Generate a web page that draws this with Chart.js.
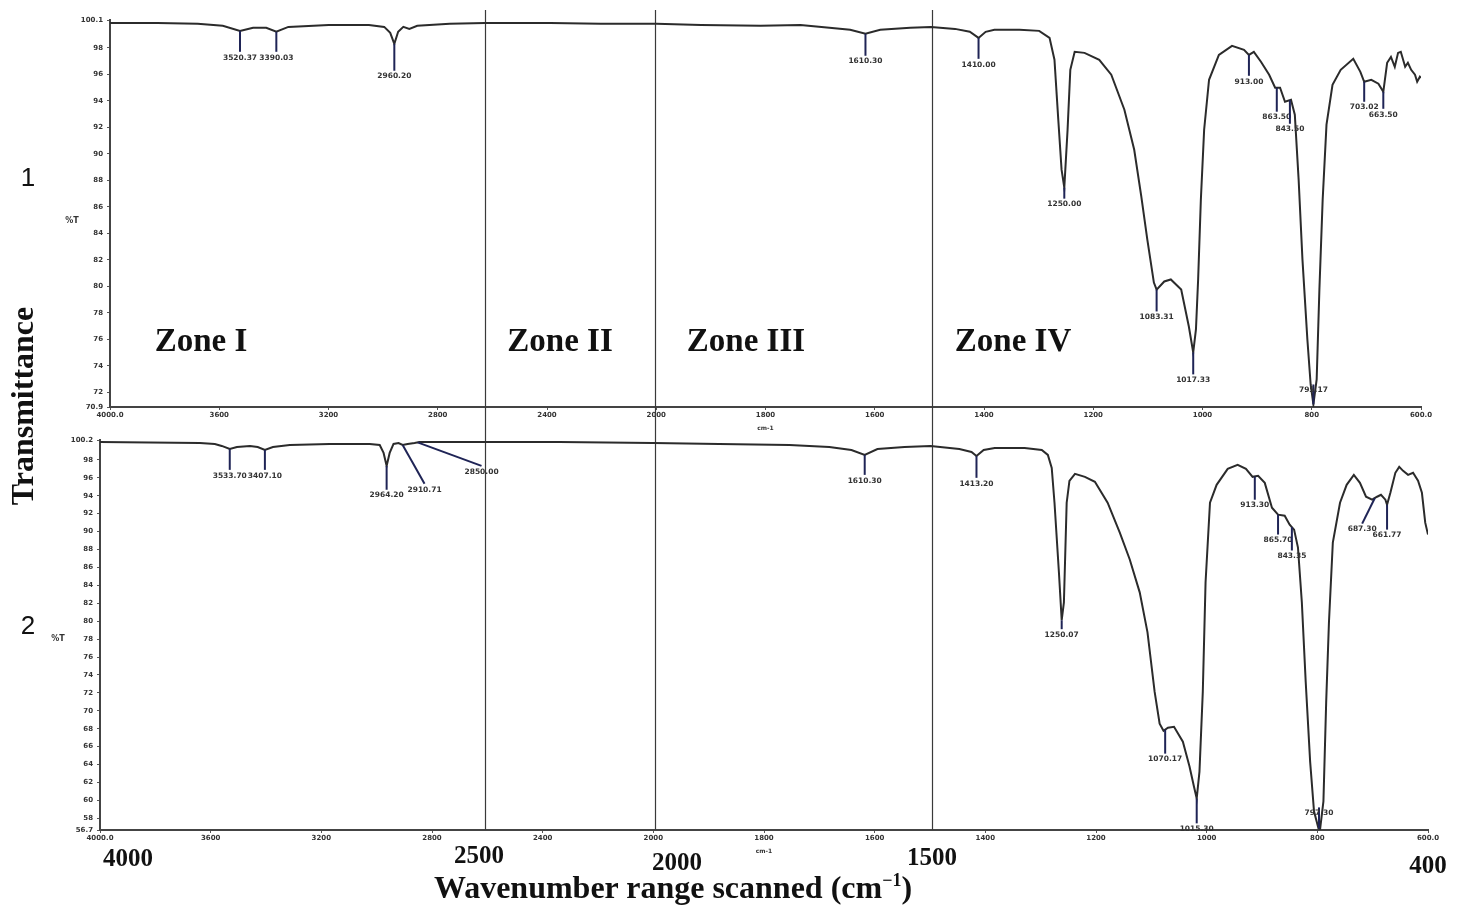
<!DOCTYPE html>
<html>
<head>
<meta charset="utf-8">
<script src="https://cdn.jsdelivr.net/npm/chart.js@4.4.1/dist/chart.umd.min.js"></script>
<style>
  body { margin: 0; background: #fff; width: 1458px; height: 905px; position: relative; overflow: hidden; }
  canvas { position: absolute; left: 0; }
  #top { top: 0; }
  #bot { top: 432px; }
  .lbl { position: absolute; transform: translate(-50%, -50%); white-space: nowrap; color: #111; }
  .serif { font-family: "Liberation Serif", "DejaVu Serif", serif; font-weight: bold; }
  .pct { font: bold 8px "DejaVu Sans", sans-serif; color: #333; }
</style>
</head>
<body>
<canvas id="top" width="1458" height="432"></canvas>
<canvas id="bot" width="1458" height="473"></canvas>

<div class="lbl" style="left:28px;top:177px;font:26px 'Liberation Sans',sans-serif">1</div>
<div class="lbl" style="left:28px;top:625px;font:26px 'Liberation Sans',sans-serif">2</div>
<div class="lbl serif" style="left:22px;top:406px;font-size:32px;transform:translate(-50%,-50%) rotate(-90deg)">Transmittance</div>
<div class="lbl pct" style="left:72px;top:220px">%T</div>
<div class="lbl pct" style="left:58px;top:638px">%T</div>
<div class="lbl serif" style="left:201px;top:340px;font-size:33px">Zone I</div>
<div class="lbl serif" style="left:560px;top:340px;font-size:33px">Zone II</div>
<div class="lbl serif" style="left:746px;top:340px;font-size:33px">Zone III</div>
<div class="lbl serif" style="left:1013px;top:340px;font-size:33px">Zone IV</div>
<div class="lbl serif" style="left:128px;top:858px;font-size:25px">4000</div>
<div class="lbl serif" style="left:479px;top:855px;font-size:25px">2500</div>
<div class="lbl serif" style="left:677px;top:862px;font-size:25px">2000</div>
<div class="lbl serif" style="left:932px;top:857px;font-size:25px">1500</div>
<div class="lbl serif" style="left:1428px;top:865px;font-size:25px">400</div>
<div class="lbl serif" style="left:673px;top:887px;font-size:32px">Wavenumber range scanned (cm<sup style="font-size:18px">−1</sup>)</div>

<script>
// spectrum 1 (top)
const topWavenumber = [4000, 3827, 3679, 3587, 3524, 3476, 3428, 3391, 3347, 3199, 3052, 2996, 2974, 2959, 2945, 2926, 2904, 2875, 2756, 2627, 2388, 2203, 2000, 1918, 1809, 1736, 1683, 1645, 1617, 1590, 1535, 1497, 1453, 1426, 1410, 1397, 1381, 1335, 1299, 1280, 1271, 1264, 1258, 1253, 1247, 1242, 1234, 1216, 1189, 1167, 1143, 1125, 1112, 1101, 1089, 1084, 1070, 1058, 1039, 1025, 1017, 1012, 1008, 1003, 997, 988, 970, 946, 924, 915, 906, 893, 878, 867, 858, 849, 838, 831, 824, 817, 808, 802, 797, 791, 786, 780, 773, 762, 747, 724, 711, 704, 691, 678, 669, 662, 655, 648, 642, 637, 629, 624, 618, 611, 607, 602, 600];
const topTransmittance = [99.88, 99.88, 99.81, 99.66, 99.28, 99.51, 99.51, 99.21, 99.58, 99.73, 99.73, 99.58, 99.13, 98.30, 99.21, 99.58, 99.43, 99.66, 99.81, 99.88, 99.88, 99.81, 99.81, 99.73, 99.66, 99.73, 99.51, 99.36, 99.06, 99.36, 99.51, 99.58, 99.43, 99.21, 98.75, 99.21, 99.36, 99.36, 99.28, 98.75, 97.10, 92.57, 88.81, 87.45, 91.82, 96.34, 97.70, 97.62, 97.10, 95.97, 93.33, 90.31, 86.77, 83.53, 80.29, 79.76, 80.37, 80.52, 79.76, 76.97, 75.02, 76.75, 80.52, 86.55, 91.82, 95.59, 97.47, 98.15, 97.85, 97.47, 97.70, 96.95, 95.97, 94.99, 94.99, 93.93, 94.08, 92.95, 88.05, 82.02, 75.99, 72.60, 71.10, 72.98, 79.76, 86.55, 92.20, 95.21, 96.34, 97.17, 96.19, 95.44, 95.59, 95.29, 94.68, 96.87, 97.32, 96.57, 97.62, 97.70, 96.57, 96.87, 96.34, 95.97, 95.44, 95.82, 95.74];

// spectrum 2 (bottom)
const botWavenumber = [4000, 3639, 3585, 3560, 3531, 3505, 3458, 3430, 3404, 3375, 3314, 3170, 3025, 2989, 2975, 2964, 2953, 2939, 2921, 2906, 2888, 2863, 2845, 2773, 2610, 2339, 2000, 1881, 1754, 1682, 1642, 1618, 1595, 1546, 1499, 1447, 1425, 1416, 1403, 1383, 1329, 1298, 1287, 1280, 1275, 1267, 1262, 1258, 1253, 1248, 1238, 1220, 1202, 1179, 1157, 1139, 1121, 1107, 1094, 1085, 1078, 1070, 1059, 1043, 1031, 1023, 1018, 1013, 1007, 1002, 994, 982, 962, 944, 929, 917, 907, 895, 882, 871, 859, 850, 842, 835, 828, 821, 813, 806, 798, 795, 789, 784, 779, 772, 759, 747, 734, 723, 712, 701, 692, 685, 677, 674, 668, 659, 652, 645, 636, 627, 618, 611, 605, 600];
const botTransmittance = [100.0, 99.89, 99.78, 99.56, 99.22, 99.44, 99.56, 99.44, 99.11, 99.44, 99.67, 99.78, 99.78, 99.67, 98.78, 97.33, 98.78, 99.78, 99.89, 99.67, 99.78, 99.89, 100.0, 100.0, 100.0, 100.0, 99.89, 99.78, 99.67, 99.44, 99.11, 98.56, 99.22, 99.44, 99.56, 99.22, 98.89, 98.44, 99.11, 99.33, 99.33, 99.11, 98.56, 97.11, 93.22, 85.44, 80.11, 82.11, 93.22, 95.67, 96.44, 96.11, 95.56, 93.22, 89.89, 86.89, 83.22, 78.78, 72.11, 68.56, 67.78, 68.11, 68.22, 66.56, 63.78, 61.56, 60.22, 63.22, 72.11, 84.33, 93.22, 95.22, 97.0, 97.44, 97.0, 96.11, 96.22, 95.44, 92.67, 91.89, 91.78, 90.78, 90.22, 88.22, 82.11, 73.22, 64.33, 58.78, 56.9, 56.8, 59.89, 71.0, 79.89, 88.78, 93.22, 95.22, 96.33, 95.44, 93.89, 93.56, 93.89, 94.11, 93.56, 93.0, 94.33, 96.56, 97.22, 96.78, 96.33, 96.56, 95.67, 94.33, 91.0, 89.67];

// axis ticks
const xTickValues = [4000, 3600, 3200, 2800, 2400, 2000, 1800, 1600, 1400, 1200, 1000, 800, 600];
const topYTicks = [70.9, 72, 74, 76, 78, 80, 82, 84, 86, 88, 90, 92, 94, 96, 98, 100.1];
const botYTicks = [56.7, 58, 60, 62, 64, 66, 68, 70, 72, 74, 76, 78, 80, 82, 84, 86, 88, 90, 92, 94, 96, 98, 100.2];

// peak picks: wavenumber on the curve, %T where the label hangs, label text
const topPeakWn = [3524, 3391, 2959, 1617, 1410, 1253, 1084, 1017, 797, 915, 864, 840, 704, 669];
const topPeakTip = [97.70, 97.70, 96.27, 97.40, 97.17, 86.62, 78.11, 73.36, 72.6, 95.89, 93.18, 92.27, 93.93, 93.40];
const topPeakText = ["3520.37", "3390.03", "2960.20", "1610.30", "1410.00", "1250.00", "1083.31", "1017.33", "795.17", "913.00", "863.50", "843.50", "703.02", "663.50"];

const botPeakWn = [3531, 3404, 2964, 2906, 2852, 1618, 1416, 1262, 1075, 1018, 797, 913, 871, 846, 696, 674];
const botPeakLabelWn = [3531, 3404, 2964, 2827, 2621, 1618, 1416, 1262, 1075, 1018, 797, 913, 871, 846, 719, 674];
const botPeakTip = [96.89, 96.89, 94.67, 95.33, 97.33, 96.33, 96.0, 79.11, 65.22, 57.44, 59.22, 93.56, 89.67, 87.89, 90.89, 90.22];
const botPeakText = ["3533.70", "3407.10", "2964.20", "2910.71", "2850.00", "1610.30", "1413.20", "1250.07", "1070.17", "1015.30", "797.30", "913.30", "865.70", "843.35", "687.30", "661.77"];

// zone boundaries as they fall in each panel
const topZones = [2627, 2005, 1495];
const botZones = [2608, 1997, 1496];

// the instrument halves the scale above 2000 cm-1
function axisPos(wn) {
  return wn > 2000 ? 2000 + (wn - 2000) / 2 : wn;
}
function axisWn(u) {
  return Math.round(u > 2000 ? 2000 + (u - 2000) * 2 : u);
}

function interp(wn, ws, ts) {
  for (let i = 0; i < ws.length - 1; i++) {
    if (wn <= ws[i] && wn >= ws[i + 1]) {
      const f = (ws[i] - wn) / (ws[i] - ws[i + 1]);
      return ts[i] + f * (ts[i + 1] - ts[i]);
    }
  }
  return ts[ts.length - 1];
}

const FONT = "'DejaVu Sans', sans-serif";

function makePanel(id, ws, ts, yTicks, peaks, zones, box) {
  const yMin = yTicks[0], yMax = yTicks[yTicks.length - 1];

  const overlay = {
    id: "overlay",
    beforeDatasetsDraw(chart) {
      const ctx = chart.ctx, x = chart.scales.x;
      ctx.save();
      ctx.strokeStyle = "#3a3a3a";
      ctx.lineWidth = 1.2;
      zones.forEach(z => {
        const px = Math.round(x.getPixelForValue(axisPos(z))) + 0.5;
        ctx.beginPath();
        ctx.moveTo(px, box.zoneTop);
        ctx.lineTo(px, box.zoneBottom === null ? chart.chartArea.bottom : box.zoneBottom);
        ctx.stroke();
      });
      ctx.restore();
    },
    afterDatasetsDraw(chart) {
      const ctx = chart.ctx, x = chart.scales.x, y = chart.scales.y;
      ctx.save();
      peaks.wn.forEach((wn, i) => {
        const lw = peaks.labelWn ? peaks.labelWn[i] : wn;
        const x0 = x.getPixelForValue(axisPos(wn));
        const y0 = y.getPixelForValue(interp(wn, ws, ts));
        const x1 = x.getPixelForValue(axisPos(lw));
        const y1 = y.getPixelForValue(peaks.tip[i]);
        ctx.strokeStyle = "#1f2456";
        ctx.lineWidth = 2;
        ctx.beginPath();
        ctx.moveTo(x0, y0);
        ctx.lineTo(x1, y1);
        ctx.stroke();
        ctx.fillStyle = "#333";
        ctx.font = "bold 7.5px " + FONT;
        ctx.textAlign = "center";
        ctx.textBaseline = "top";
        ctx.fillText(peaks.text[i], x1, y1 + 2);
      });
      ctx.restore();
    }
  };

  return new Chart(document.getElementById(id), {
    type: "line",
    data: {
      datasets: [{
        data: ws.map((w, i) => ({ x: axisPos(w), y: ts[i] })),
        borderColor: "#2b2b2b",
        borderWidth: 2,
        pointRadius: 0,
        tension: 0,
        fill: false
      }]
    },
    options: {
      responsive: false,
      animation: false,
      devicePixelRatio: 1,
      layout: { padding: { left: 0, right: box.right, top: box.top, bottom: box.bottom } },
      plugins: { legend: { display: false }, tooltip: { enabled: false } },
      scales: {
        x: {
          type: "linear",
          reverse: true,
          min: axisPos(600),
          max: axisPos(4000),
          afterBuildTicks: s => { s.ticks = xTickValues.map(v => ({ value: axisPos(v) })); },
          afterFit: s => { s.height = 25; },
          ticks: {
            autoSkip: false,
            maxRotation: 0,
            padding: 1,
            color: "#333",
            font: { family: FONT, size: 7, weight: "bold" },
            callback: v => {
              const wn = axisWn(v);
              return (wn === 4000 || wn === 600) ? wn.toFixed(1) : String(wn);
            }
          },
          title: { display: true, text: "cm-1", color: "#333", padding: 0, font: { family: FONT, size: 6, weight: "bold" } },
          grid: { display: true, drawOnChartArea: false, tickLength: 3, color: "#555" },
          border: { display: true, color: "#444", width: 2 }
        },
        y: {
          min: yMin,
          max: yMax,
          afterBuildTicks: s => { s.ticks = yTicks.map(v => ({ value: v })); },
          afterFit: s => { s.width = box.left; },
          ticks: {
            autoSkip: false,
            padding: 4,
            color: "#333",
            font: { family: FONT, size: 7, weight: "bold" },
            callback: v => (v === yMin || v === yMax) ? v.toFixed(1) : String(v)
          },
          grid: { display: true, drawOnChartArea: false, tickLength: 3, color: "#555" },
          border: { display: true, color: "#444", width: 2 }
        }
      }
    },
    plugins: [overlay]
  });
}

makePanel("top", topWavenumber, topTransmittance, topYTicks,
  { wn: topPeakWn, tip: topPeakTip, text: topPeakText }, topZones,
  { left: 110, right: 37, top: 20, bottom: 0, zoneTop: 10, zoneBottom: 432 });

makePanel("bot", botWavenumber, botTransmittance, botYTicks,
  { wn: botPeakWn, labelWn: botPeakLabelWn, tip: botPeakTip, text: botPeakText }, botZones,
  { left: 100, right: 30, top: 7, bottom: 50, zoneTop: 0, zoneBottom: null });
</script>
</body>
</html>
